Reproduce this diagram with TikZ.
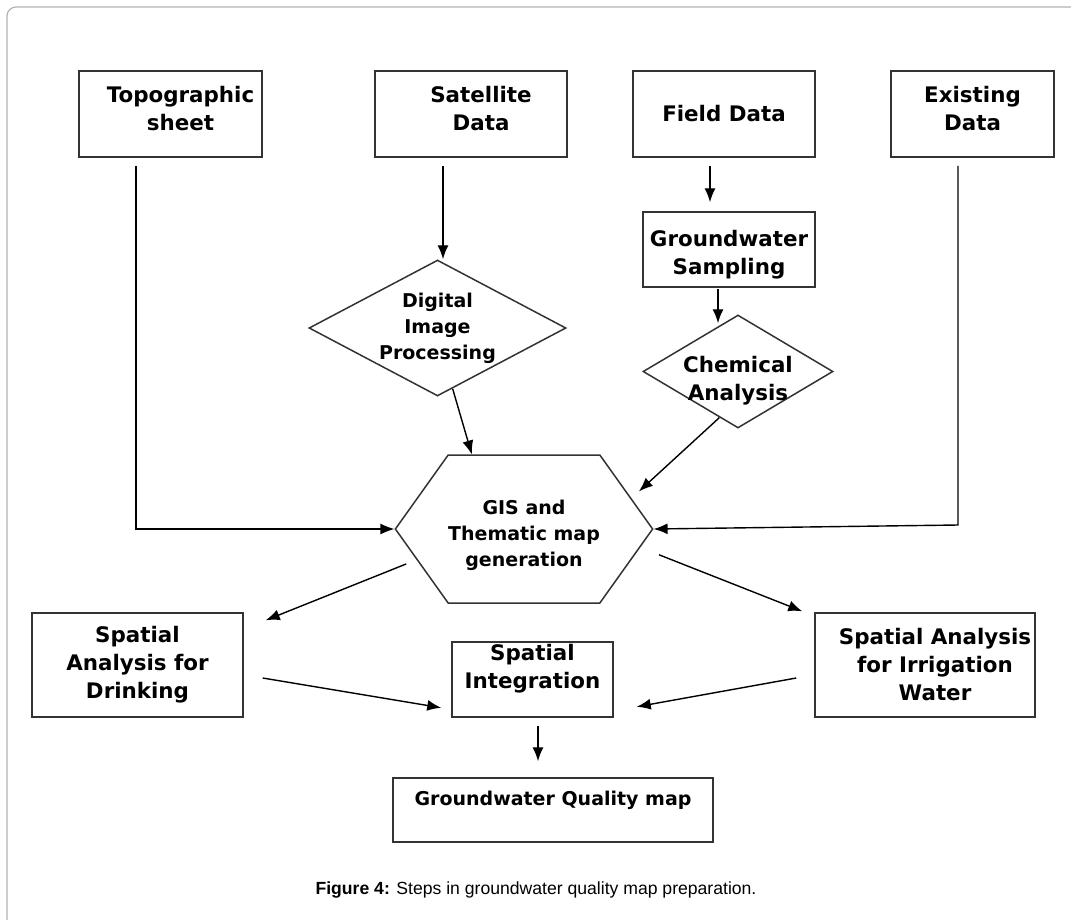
\documentclass[tikz,border=0pt]{standalone}
\usepackage{fontspec}
\setmainfont{Liberation Sans}
\newfontfamily\boxfamily{DejaVu Sans}
\newcommand{\boxfont}{\boxfamily\bfseries\fontsize{21.4}{28}\selectfont}
\newcommand{\smallboxfont}{\boxfamily\bfseries\fontsize{19}{26}\selectfont}
\newcommand{\indentline}{\hspace*{20pt}}
\usetikzlibrary{shapes.geometric,shapes.symbols,arrows.meta,calc}
\tikzset{
    block/.style = {draw=black!80, line width=1.5pt, rectangle,
        inner sep=0pt, align=center, font=\boxfont},
    decision/.style = {draw=black!80, line width=1.5pt, diamond,
        inner sep=0pt, align=center, font=\boxfont},
    hexa/.style = {draw=black!80, line width=1.5pt, signal,
        signal to=east and west, signal pointer angle=109,
        inner sep=0pt, align=center, font=\smallboxfont},
    arrow/.style = {draw, line width=1.4pt, ->},
    frame/.style = {draw=black!30, line width=1.2pt, rounded corners=9pt}
}

\begin{document}
\begin{tikzpicture}[x=1pt, y=-1pt, >={Latex[length=14pt,width=11pt]}]
    \useasboundingbox (0,0) rectangle (1071,919);
    \begin{scope}
        \clip (0,0) rectangle (1071,919);
        \path[frame] (7,7) rectangle (1100,950);
    \end{scope}
    % sources
    \node [block, minimum width=183pt, minimum height=86pt, text depth=11pt] (topo) at (170.5,114) {\indentline Topographic\\\indentline sheet};
    \node [block, right of=topo, node distance=300.5pt, minimum width=192pt, minimum height=86pt, text depth=11pt] (sat) {\indentline Satellite\\\indentline Data};
    \node [block, right of=sat, node distance=253pt, minimum width=182pt, minimum height=86pt] (field) {Field Data};
    \node [block, right of=field, node distance=248.5pt, minimum width=163pt, minimum height=86pt, text depth=11pt] (exist) {Existing\\Data};
    % processing
    \node [block, minimum width=172pt, minimum height=75pt, text height=54pt] (gws) at (729,249.5) {Groundwater\\Sampling};
    \node [decision, aspect=1.9, minimum width=257pt, minimum height=136pt, font=\smallboxfont] (dip) at (437.5,328) {Digital\\Image\\Processing};
    \node [decision, aspect=1.68, inner sep=-14pt, text height=63pt, minimum width=190pt, minimum height=113pt] (chem) at (738,371.5) {Chemical\\Analysis};
    \node [hexa, minimum width=218pt, minimum height=148pt, text height=80pt] (gis) at (524,529) {GIS and\\Thematic map\\generation};
    % analysis
    \node [block, minimum width=211pt, minimum height=104pt] (drink) at (137.5,665) {Spatial\\Analysis for\\Drinking};
    \node [block, minimum width=161pt, minimum height=75pt, text depth=26pt] (integ) at (532.5,679.5) {Spatial\\Integration};
    \node [block, minimum width=220pt, minimum height=104pt] (irrig) at (925,665) {\indentline Spatial Analysis\\\indentline for Irrigation\\\indentline Water};
    \node [block, minimum width=320pt, minimum height=64pt, text depth=23pt, font=\smallboxfont] (gqm) at (553,810) {Groundwater Quality map};
    \node [font=\fontsize{17.6}{21}\selectfont] (caption) at (536,890) {\textbf{Figure 4:} Steps in groundwater quality map preparation.};

    \coordinate (topoout) at ($(topo.south)+(-34.5,8)$);
    \coordinate (satout) at ($(sat.south)+(-28,8)$);
    \coordinate (fieldout) at ($(field.south)+(-14,8)$);
    \coordinate (existout) at ($(exist.south)+(-14.5,8)$);
    \coordinate (existbend) at ($(existout |- gis.east)+(0,-4)$);
    \coordinate (gwsout) at ($(gws.south)+(-11,1)$);
    \coordinate (chemin) at ($(chem.north)+(-20,9)$);
    \draw [arrow] (topoout) |- (gis.west);
    \draw [arrow] (satout) -- (satout |- dip.north);
    \draw [arrow] (dip.-76) -- (gis.125);
    \draw [arrow] (fieldout) -- ($(fieldout |- gws.north)+(0,-9)$);
    \draw [arrow] (gwsout) -- (chemin);
    \draw [arrow, shorten >=10pt] (chem.248) -- (gis.16);
    \draw [arrow] (existout) -- (existbend) -- (gis.east);

    \coordinate (drinkin) at ($(drink.north east)+(22,8)$);
    \coordinate (irrigin) at ($(irrig.north west)+(-12,-1)$);
    \draw [arrow, shorten <=11pt] (gis.196) -- (drinkin);
    \draw [arrow, shorten <=20pt] (gis.-9) -- (irrigin);
    \coordinate (drinkout) at ($(drink.east)+(19,13)$);
    \coordinate (integinl) at ($(integ.south west)+(-10,-10)$);
    \coordinate (irrigout) at ($(irrig.west)+(-18,13)$);
    \coordinate (integinr) at ($(integ.south east)+(23,-11)$);
    \coordinate (integout) at ($(integ.south)+(5.5,8)$);
    \draw [arrow] (drinkout) -- (integinl);
    \draw [arrow] (irrigout) -- (integinr);
    \draw [arrow] (integout) -- ($(integout |- gqm.north)+(0,-16)$);
\end{tikzpicture}
\end{document}
